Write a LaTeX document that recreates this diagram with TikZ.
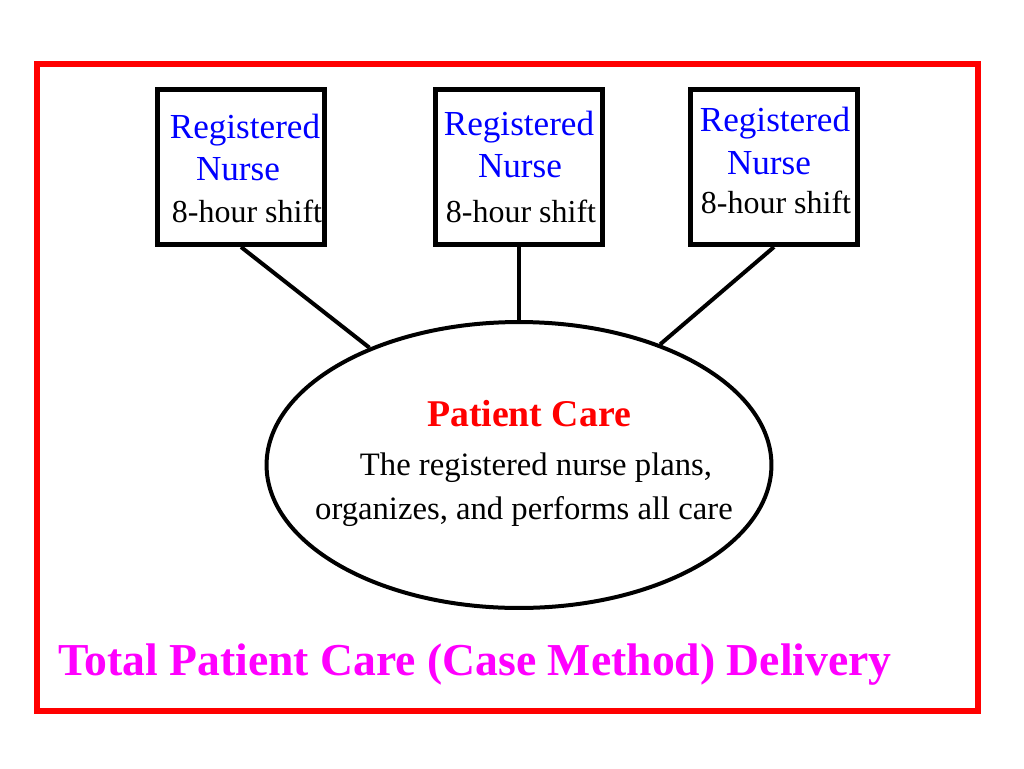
\documentclass[tikz,border=0pt]{standalone}
\usepackage{fontspec}
\newfontfamily\timesfont{Liberation Serif}
\usetikzlibrary{shapes.geometric,positioning}
\definecolor{rnblue}{RGB}{0,0,255}
\definecolor{carered}{RGB}{255,0,0}
\definecolor{titlemag}{RGB}{255,0,255}

\begin{document}
\begin{tikzpicture}[
    x=0.02cm, y=-0.02cm,
    nursebox/.style={draw, line width=0.1cm, minimum width=3.36cm, minimum height=3.1cm, inner sep=0pt},
    careoval/.style={draw, ellipse, line width=0.08cm, minimum width=10.1cm, minimum height=5.72cm, inner sep=0pt},
    link/.style={line width=0.08cm},
    rn/.style={inner sep=0pt, text=rnblue, font=\timesfont\fontsize{20}{24}\selectfont},
    plain/.style={inner sep=0pt, font=\timesfont\fontsize{18.2}{22}\selectfont},
    ovaltext/.style={inner sep=0pt, font=\timesfont\fontsize{18.6}{22}\selectfont}
]
\useasboundingbox (0,0) rectangle (1024,768);
\draw[carered, line width=0.12cm] (37,64) rectangle (978,711);

\node[nursebox] (nurseA) at (241,167) {};
\node[nursebox] (nurseB) at (519,167) {};
\node[nursebox] (nurseC) at (774,167) {};
\node[careoval] (care) at (519,465) {};

% text of the three boxes
\node[rn] (regA) at (245,130) {Registered};
\node[rn] (nrsA) at (238,169) {Nurse};
\node[plain] (shA) at (247,211) {8-hour shift};
\node[rn] (regB) at (519,127) {Registered};
\node[rn] (nrsB) at (520,166) {Nurse};
\node[plain] (shB) at (521,211) {8-hour shift};
\node[rn] (regC) at (775,123) {Registered};
\node[rn] (nrsC) at (769,163) {Nurse};
\node[plain] (shC) at (776,202) {8-hour shift};

% text of the oval
\node[inner sep=0pt, text=carered, font=\timesfont\fontsize{21.5}{26}\selectfont\bfseries] (pc) at (529,414) {Patient Care};
\node[ovaltext] (line1) at (536,468) {The registered nurse plans,};
\node[ovaltext] (line2) at (524,512) {organizes, and performs all care};

\node[inner sep=0pt, text=titlemag, font=\timesfont\fontsize{26}{30}\selectfont\bfseries] (title) at (475,665) {Total Patient Care (Case Method) Delivery};

\draw[link] (nurseA.south) -- (care);
\draw[link] (nurseB.south) -- (care);
\draw[link] (nurseC.south) -- (care);
\end{tikzpicture}
\end{document}
